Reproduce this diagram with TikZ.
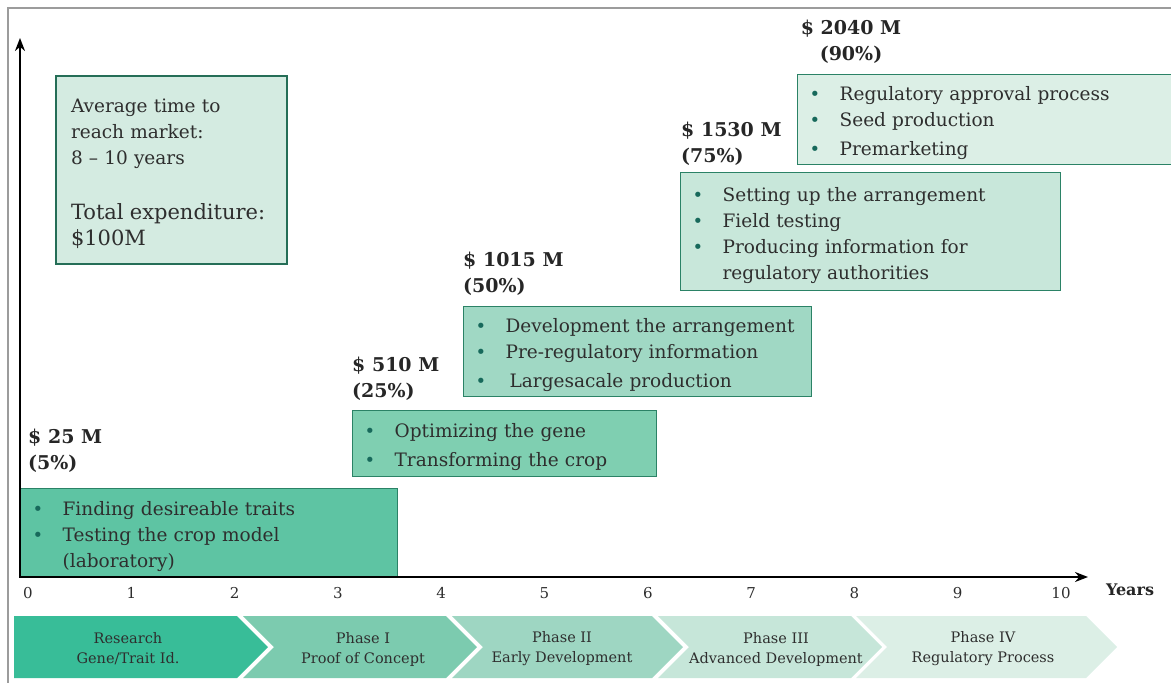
\documentclass[tikz,border=0pt]{standalone}
\usepackage{fontspec}
\setmainfont{DejaVu Serif}
\usetikzlibrary{arrows.meta}
\definecolor{frameg}{HTML}{9C9C9C}
\definecolor{edgeg}{HTML}{2B8266}
\definecolor{dotg}{HTML}{17695B}
\definecolor{txtg}{HTML}{2E2E2E}
\definecolor{infoc}{HTML}{D4EBE1}
\definecolor{boxA}{HTML}{5EC4A3}
\definecolor{boxB}{HTML}{7FCFB1}
\definecolor{boxC}{HTML}{A0D8C4}
\definecolor{boxD}{HTML}{C8E7DA}
\definecolor{boxE}{HTML}{DCEFE6}
\definecolor{phA}{HTML}{38BD98}
\definecolor{phB}{HTML}{7CCBAF}
\definecolor{phC}{HTML}{9ED6C2}
\definecolor{phD}{HTML}{C6E6D9}
\definecolor{phE}{HTML}{DCEFE6}
\newcommand{\itm}{\makebox[30pt][l]{\textcolor{dotg}{\fontsize{18}{18}\selectfont\textbullet}}}
\tikzset{
	box/.style={draw=edgeg, line width=1.3pt, anchor=north west, inner xsep=12pt, inner ysep=0pt, text=txtg, align=left, font=\fontsize{18.5}{26}\selectfont, execute at begin node={\rule{0pt}{21pt}}},
	cost/.style={anchor=north west, inner sep=0pt, align=left, text=black!85, font=\bfseries\fontsize{19}{26}\selectfont},
	phase/.style={inner sep=0pt, align=center, text=txtg, font=\fontsize{14.5}{20}\selectfont},
	tick/.style={text=txtg, font=\fontsize{15}{15}\selectfont},
	axis/.style={line width=2pt, {Stealth[length=13pt,width=10pt]}-{Stealth[length=13pt,width=10pt]}}
}
\begin{document}
\begin{tikzpicture}[x=1pt,y=-1pt]
	\useasboundingbox (0,0) rectangle (1171,683);
	\draw[frameg, line width=2.5pt] (8,690) -- (8,8) -- (1180,8);
	\node[box, draw=edgeg!85!black, line width=2pt, fill=infoc, inner xsep=15pt, text width=201pt, minimum height=188pt, font=\fontsize{18.5}{26}\selectfont, execute at begin node={}] (info) at (55,75) {Average time to\\ reach market:\\ 8 -- 10 years\\[29pt] {\fontsize{21}{26}\selectfont Total expenditure:}\\ {\fontsize{21}{26}\selectfont \$100M}};
	\node[box, fill=boxA, text width=353pt, minimum height=89pt] (b1) at (20,488) {\itm Finding desireable traits\\ \itm Testing the crop model\\ \hspace*{30pt}(laboratory)};
	\node[box, fill=boxB, text width=280pt, minimum height=66pt] (b2) at (352,410) {\itm Optimizing the gene\\[3pt] \itm Transforming the crop};
	\node[box, fill=boxC, text width=324pt, minimum height=90pt] (b3) at (463,306) {\itm Development the arrangement\\ \itm Pre-regulatory information\\[3pt] \itm\hspace*{4pt}Largesacale production};
	\node[box, fill=boxD, text width=356pt, minimum height=118pt] (b4) at (680,172) {\itm Setting up the arrangement\\ \itm Field testing\\ \itm Producing information for\\ \hspace*{30pt}regulatory authorities};
	\node[box, fill=boxE, text width=359pt, minimum height=90pt] (b5) at (797,74) {\itm Regulatory approval process\\ \itm Seed production\\[3pt] \itm Premarketing};
	\node[cost] (l1) at (28,429) {\$ 25 M\\ (5\%)};
	\node[cost] (l2) at (352,357) {\$ 510 M\\ (25\%)};
	\node[cost] (l3) at (463,252) {\$ 1015 M\\ (50\%)};
	\node[cost] (l4) at (681,122) {\$ 1530 M\\ (75\%)};
	\node[cost, anchor=north, align=center] (l5) at (851,20) {\$ 2040 M\\ (90\%)};
	\coordinate (ytop) at (20,38);
	\coordinate (xend) at (1088,577);
	\draw[axis] (ytop) |- (xend);
	\foreach \i in {0,...,10}
		\node[tick] (t\i) at ({28+103.3*\i},593) {\i};
	\node[font=\bfseries\fontsize{16}{16}\selectfont, text=black!85] (yrs) at (1130,590) {Years};
	\fill[phA] (14,616) -- (237,616) -- (268,647) -- (237,678) -- (14,678) -- cycle;
	\foreach \a/\b/\c in {243/446/phB, 452/652/phC, 658/851/phD, 856/1086/phE}
		\fill[\c] (\a,616) -- (\b,616) -- ++(31,31) -- ++(-31,31) -- (\a,678) -- ++(31,-31) -- cycle;
	\node[phase] (p1) at (128,649) {Research\\ Gene/Trait Id.};
	\node[phase] (p2) at (363,649) {Phase I\\ Proof of Concept};
	\node[phase] (p3) at (562,649) {Phase II\\ Early Development};
	\node[phase] (p4) at (776,649) {Phase III\\ Advanced Development};
	\node[phase] (p5) at (983,649) {Phase IV\\ Regulatory Process};
\end{tikzpicture}
\end{document}
